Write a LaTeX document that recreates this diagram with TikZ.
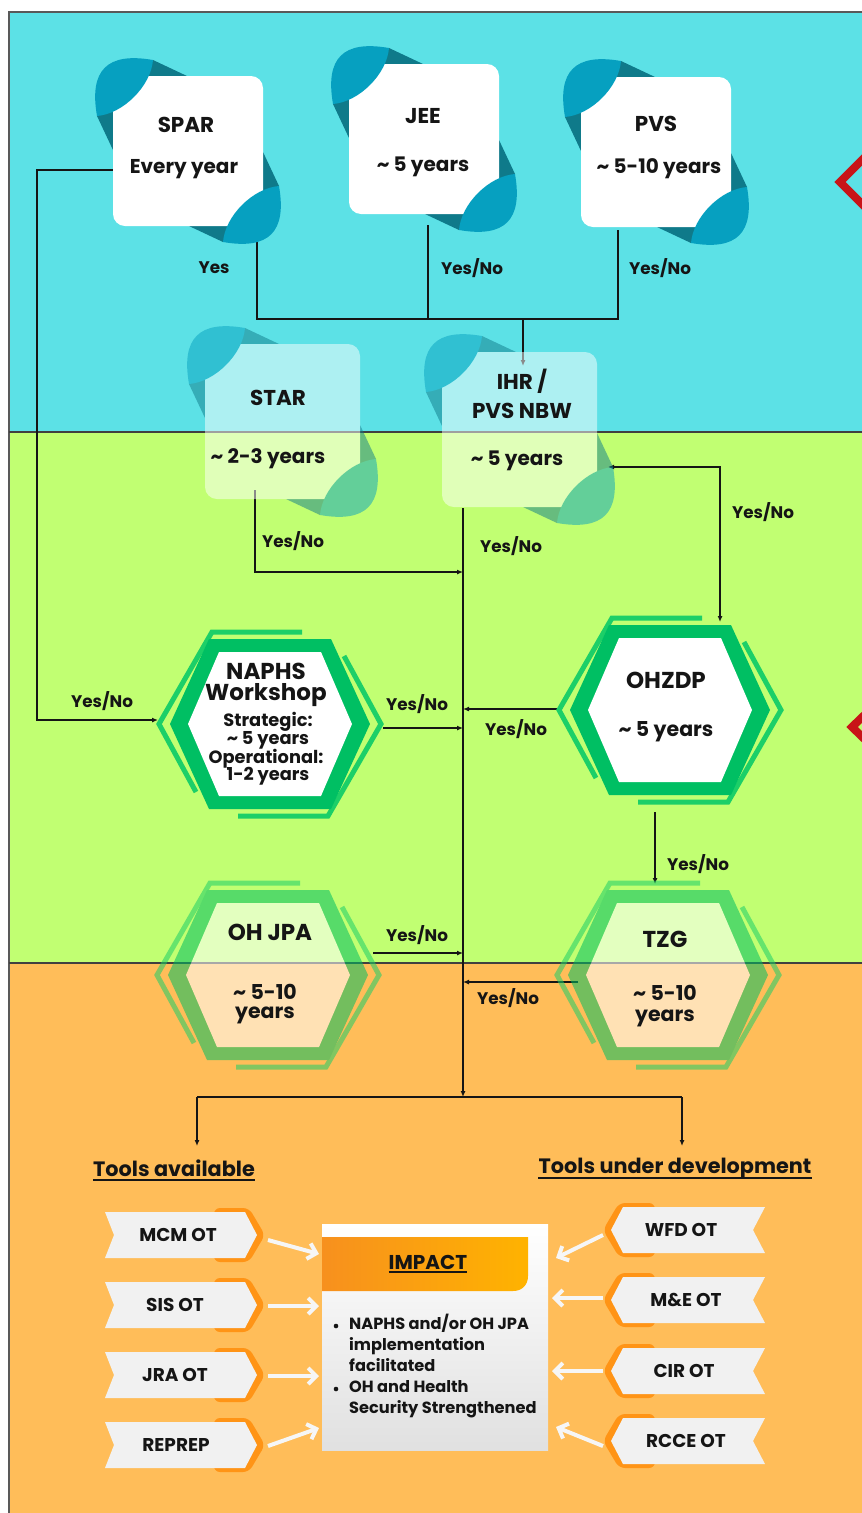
\documentclass[tikz,border=0pt]{standalone}
\usepackage{fontspec}
\setmainfont{Poppins}
\usetikzlibrary{arrows.meta}
\definecolor{bgCyan}{HTML}{5CE1E6}
\definecolor{bgLime}{HTML}{C1FF72}
\definecolor{bgOrange}{HTML}{FFBD59}
\definecolor{cardBlue}{HTML}{06A0C0}
\definecolor{cardDark}{HTML}{0F7A8A}
\definecolor{ringG}{HTML}{00BF63}
\definecolor{stripG}{HTML}{1CCF68}
\definecolor{tagGray}{HTML}{F1F1F1}
\definecolor{tagOrange}{HTML}{FF9416}
\definecolor{impA}{HTML}{F7901E}
\definecolor{impB}{HTML}{FFB300}
\definecolor{ink}{HTML}{151515}
\definecolor{redMark}{HTML}{C81418}
\definecolor{warrow}{HTML}{F6F6F6}
\newcommand\tl{\textasciitilde}
\tikzset{
  conn/.style={draw=ink, line width=1.3pt},
  arr/.style={-{Latex[length=6pt,width=5pt]}},
  wa/.style={draw=warrow, line width=4pt, -{Straight Barb[length=8pt,width=16pt]}},
  txt/.style={text=ink, inner sep=0pt, font=\bfseries},
  ttl/.style={txt, font=\fontsize{21.5}{24}\selectfont\bfseries},
  sub/.style={txt, font=\fontsize{20}{22}\selectfont\bfseries},
  hxt/.style={txt, font=\fontsize{23}{25}\selectfont\bfseries},
  hxs/.style={txt, font=\fontsize{20.5}{22}\selectfont\bfseries},
  hxd/.style={txt, font=\fontsize{17.8}{19}\selectfont\bfseries},
  lbl/.style={txt, font=\fontsize{16.8}{18}\selectfont\bfseries},
  head/.style={txt, font=\fontsize{20.8}{23}\selectfont\bfseries},
  tagtxt/.style={txt, font=\fontsize{18.5}{20}\selectfont\bfseries},
  imp/.style={txt, font=\fontsize{20}{22}\selectfont\bfseries},
  bl/.style={txt, anchor=west, font=\fontsize{16.2}{18}\selectfont\bfseries, text height=11pt, text depth=3pt},
}
\newcommand\card[3]{%
\begin{scope}[shift={(#1,#2)}]
\fill[cardDark] (40,-16) -- (74,0) -- (0,0) -- (0,74) -- (-16,40) -- cycle;
\fill[cardDark] ({#3-40},{#3+16}) -- ({#3-74},#3) -- (#3,#3) -- (#3,{#3-74}) -- ({#3+16},{#3-40}) -- cycle;
\fill[white, rounded corners=12pt] (0,0) rectangle (#3,#3);
\fill[cardBlue] (-16,40) .. controls (-24,-6) and (-6,-24) .. (40,-16) .. controls (38,10) and (10,38) .. cycle;
\fill[cardBlue] ({#3+16},{#3-40}) .. controls ({#3+24},{#3+6}) and ({#3+6},{#3+24}) .. ({#3-40},{#3+16}) .. controls ({#3-38},{#3-10}) and ({#3-10},{#3-38}) .. cycle;
\end{scope}}
\newcommand\hexbox[2]{%
\begin{scope}[shift={(#1,#2)}]
\draw[stripG, line width=5pt] (-74,68) -- (-111,0) -- (-58,-92) -- (32,-92);
\draw[stripG, line width=5pt] (74,-68) -- (111,0) -- (58,92) -- (-32,92);
\fill[ringG] (100,0) -- (61,-85) -- (-61,-85) -- (-100,0) -- (-61,85) -- (61,85) -- cycle;
\fill[white] (82,0) -- (51,-72) -- (-51,-72) -- (-82,0) -- (-51,72) -- (51,72) -- cycle;
\end{scope}}
\newcommand\tagL[4]{%
\fill[tagOrange, rounded corners=6pt] (214,{#1-27}) -- (249,{#1-27}) -- (265,#1) -- (249,{#1+27}) -- (214,{#1+27}) -- cycle;
\fill[tagGray] (105,{#1-23}) -- (245,{#1-23}) -- (257,#1) -- (245,{#1+23}) -- (105,{#1+23}) -- (114,#1) -- cycle;
\node[tagtxt] (#2) at (#4,#1) {#3};}
\newcommand\tagR[4]{%
\fill[tagOrange, rounded corners=6pt] (655,{#1-27}) -- (619,{#1-27}) -- (603,#1) -- (619,{#1+27}) -- (655,{#1+27}) -- cycle;
\fill[tagGray] (765,{#1-23}) -- (623,{#1-23}) -- (611,#1) -- (623,{#1+23}) -- (765,{#1+23}) -- (753,#1) -- cycle;
\node[tagtxt] (#2) at (#4,#1) {#3};}
\begin{document}
\begin{tikzpicture}[x=1pt,y=-1pt]
\useasboundingbox (0,0) rectangle (862,1513);
\clip (0,0) rectangle (862,1513);
\fill[white] (0,0) rectangle (862,1513);
% bands
\fill[bgCyan] (9,12) rectangle (870,432);
\fill[bgLime] (9,432) rectangle (870,963);
\fill[bgOrange] (9,963) rectangle (870,1520);
\draw[line width=1.5pt, draw=black!65] (9,1520) -- (9,12) -- (870,12);
\draw[line width=1.2pt, draw=black!75] (9,432) -- (870,432);
\draw[line width=1.2pt, draw=black!75] (9,963) -- (870,963);
% red marks at the right edge
\draw[redMark, line width=8pt] (882,140) -- (840,182) -- (882,224);
\draw[redMark, line width=8pt] (882,698) -- (852,727) -- (882,756);

% ports
\coordinate (sparL) at (113,170);
\coordinate (sparB) at (257,240);
\coordinate (jeeB) at (428,225);
\coordinate (pvsB) at (618,230);
\coordinate (jl) at (257,319);
\coordinate (jm) at (428,319);
\coordinate (jc) at (523,319);
\coordinate (jr) at (618,319);
\coordinate (ihrT) at (523,366);
\coordinate (leftTurn) at (37,720);
\coordinate (naphsL) at (158,720);
\coordinate (starB) at (255,490);
\coordinate (tStar) at (463,572);
\coordinate (ihrB) at (463,508);
\coordinate (tEnd) at (463,1097);
\coordinate (ihrR) at (608,467);
\coordinate (ohzT) at (720,622);
\coordinate (naphsR) at (383,728);
\coordinate (tNaphs) at (463,728);
\coordinate (ohzL) at (557,709);
\coordinate (tOhz) at (463,709);
\coordinate (ohzB) at (655,812);
\coordinate (tzgT) at (655,884);
\coordinate (ohjR) at (373,953);
\coordinate (tOhj) at (463,953);
\coordinate (tzgL) at (578,982);
\coordinate (tTzg) at (463,982);
\coordinate (bl) at (197,1097);
\coordinate (br) at (682,1097);
\coordinate (availT) at (197,1146);
\coordinate (devT) at (682,1146);

% connectors
\draw[conn, arr] (sparL) -| (leftTurn) -- (naphsL);
\draw[conn] (sparB) -- (jl) -- (jr) -- (pvsB);
\draw[conn] (jeeB) -- (jm);
\draw[conn, arr] (jc) -- (ihrT);
\draw[conn, arr] (starB) |- (tStar);
\draw[conn, arr] (ihrB) -- (tEnd);
\draw[conn, {Latex[length=6pt,width=5pt]}-{Latex[length=6pt,width=5pt]}] (ihrR) -| (ohzT);
\draw[conn, arr] (naphsR) -- (tNaphs);
\draw[conn, arr] (ohzL) -- (tOhz);
\draw[conn, arr] (ohzB) -- (tzgT);
\draw[conn, arr] (ohjR) -- (tOhj);
\draw[conn, arr] (tzgL) -- (tTzg);
\draw[conn] (bl) -- (br);
\draw[conn, arr] (bl) -- (availT);
\draw[conn, arr] (br) -- (devT);

% cards
\card{113}{76}{150}
\card{349}{64}{150}
\card{581}{77}{150}
\begin{scope}[transparency group, opacity=0.5]
\card{205}{344}{155}
\end{scope}
\begin{scope}[transparency group, opacity=0.5]
\card{442}{352}{155}
\end{scope}

% hexagons
\hexbox{270}{724}
\hexbox{670}{710}
\begin{scope}[transparency group, opacity=0.55]
\hexbox{268}{975}
\end{scope}
\begin{scope}[transparency group, opacity=0.55]
\hexbox{668}{975}
\end{scope}

% card texts
\node[ttl] (spar) at (186,125) {SPAR};
\node[sub] (sparY) at (184,169) {Every year};
\node[ttl] (jee) at (423,116) {JEE};
\node[sub] (jeeY) at (423,167) {\tl{} 5 years};
\node[ttl] (pvs) at (656,124) {PVS};
\node[sub] (pvsY) at (659,169) {\tl{} 5-10 years};
\node[ttl] (star) at (278,398) {STAR};
\node[sub] (starY) at (268,459) {\tl{} 2-3 years};
\node[ttl] (ihr1) at (522,381) {IHR /};
\node[ttl] (ihr2) at (522,411) {PVS NBW};
\node[sub] (ihrY) at (517,461) {\tl{} 5 years};

% hex texts
\node[hxt] (naphs1) at (266,671) {NAPHS};
\node[hxt] (naphs2) at (266,695) {Workshop};
\node[hxd] (naphs3) at (268,722) {Strategic:};
\node[hxd] (naphs4) at (268,740) {\tl{} 5 years};
\node[hxd] (naphs5) at (266,759) {Operational:};
\node[hxd] (naphs6) at (268,776) {1-2 years};
\node[hxt] (ohz) at (666,680) {OHZDP};
\node[hxs] (ohzY) at (666,732) {\tl{} 5 years};
\node[hxt] (ohj) at (270,932) {OH JPA};
\node[hxs] (ohjY1) at (265,992) {\tl{} 5-10};
\node[hxs] (ohjY2) at (265,1015) {years};
\node[hxt] (tzg) at (665,939) {TZG};
\node[hxs] (tzgY1) at (665,993) {\tl{} 5-10};
\node[hxs] (tzgY2) at (665,1018) {years};

% labels
\node[lbl] (l1) at (214,268) {Yes};
\node[lbl] (l2) at (472,268) {Yes/No};
\node[lbl] (l3) at (660,268) {Yes/No};
\node[lbl] (l4) at (102,701) {Yes/No};
\node[lbl] (l5) at (293,541) {Yes/No};
\node[lbl] (l6) at (511,546) {Yes/No};
\node[lbl] (l7) at (763,512) {Yes/No};
\node[lbl] (l8) at (417,704) {Yes/No};
\node[lbl] (l9) at (516,729) {Yes/No};
\node[lbl] (l10) at (698,864) {Yes/No};
\node[lbl] (l11) at (417,935) {Yes/No};
\node[lbl] (l12) at (508,998) {Yes/No};

% headings
\node[head] (avail) at (174,1168) {Tools available};
\draw[ink, line width=1.6pt] ([yshift=-4pt]avail.base west) -- ([yshift=-4pt]avail.base east);
\node[head] (dev) at (675,1169) {Tools under development};
\draw[ink, line width=1.6pt] ([yshift=-4pt]dev.base west) -- ([yshift=-4pt]dev.base east);

% impact box
\shade[top color=white, bottom color=black!12] (322,1224) rectangle (548,1450);
\shade[left color=impA, right color=impB] (322,1237) -- (528,1237) -- (528,1276) .. controls (528,1285) and (522,1291) .. (513,1291) -- (322,1291) -- cycle;
\node[imp] (impact) at (428,1262) {IMPACT};
\draw[ink, line width=1.4pt] ([yshift=-3pt]impact.base west) -- ([yshift=-3pt]impact.base east);
\fill[ink] (336,1326) circle (2.3pt);
\fill[ink] (336,1389) circle (2.3pt);
\node[bl] (b1) at (349,1325) {NAPHS and/or OH JPA};
\node[bl] (b2) at (349,1346) {implementation};
\node[bl] (b3) at (349,1367) {facilitated};
\node[bl] (b4) at (349,1388) {OH and Health};
\node[bl] (b5) at (349,1409) {Security Strengthened};

% tags
\tagL{1235}{mcm}{MCM OT}{178}
\tagL{1305}{sis}{SIS OT}{175}
\tagL{1375}{jra}{JRA OT}{175}
\tagL{1445}{rep}{REPREP}{176}
\tagR{1230}{wfd}{WFD OT}{681}
\tagR{1300}{mae}{M\&E OT}{686}
\tagR{1371}{cir}{CIR OT}{684}
\tagR{1441}{rcce}{RCCE OT}{686}

% white arrows
\coordinate (mcmR) at (268,1240);
\coordinate (sisR) at (268,1306);
\coordinate (jraR) at (268,1376);
\coordinate (repR) at (268,1446);
\coordinate (iL1) at (319,1254);
\coordinate (iL2) at (319,1306);
\coordinate (iL3) at (319,1376);
\coordinate (iL4) at (319,1428);
\coordinate (wfdL) at (603,1235);
\coordinate (maeL) at (603,1298);
\coordinate (cirL) at (603,1371);
\coordinate (rcceL) at (603,1446);
\coordinate (iR1) at (556,1258);
\coordinate (iR2) at (552,1298);
\coordinate (iR3) at (552,1371);
\coordinate (iR4) at (556,1427);
\draw[wa] (mcmR) -- (iL1);
\draw[wa] (sisR) -- (iL2);
\draw[wa] (jraR) -- (iL3);
\draw[wa] (repR) -- (iL4);
\draw[wa] (wfdL) -- (iR1);
\draw[wa] (maeL) -- (iR2);
\draw[wa] (cirL) -- (iR3);
\draw[wa] (rcceL) -- (iR4);
\end{tikzpicture}
\end{document}
